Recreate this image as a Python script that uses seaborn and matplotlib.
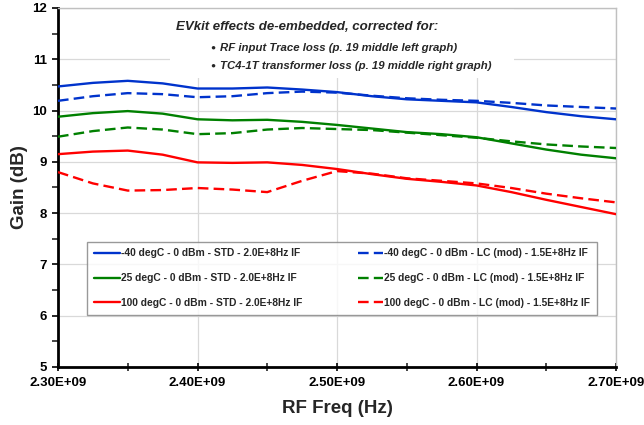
import numpy as np
import pandas as pd
import matplotlib
matplotlib.use('Agg')
import matplotlib.pyplot as plt
import seaborn as sns
from matplotlib.patches import Rectangle

# frequency points (GHz)
freq_ghz = [2.300, 2.325, 2.350, 2.375, 2.400, 2.425, 2.450, 2.475, 2.500,
            2.525, 2.550, 2.575, 2.600, 2.625, 2.650, 2.675, 2.700]

# gain (dB), STD board, 2.0E+8Hz IF
gain_m40_std = [10.47, 10.54, 10.58, 10.53, 10.43, 10.43, 10.45, 10.41, 10.36,
                10.28, 10.22, 10.19, 10.16, 10.07, 9.97, 9.89, 9.83]
gain_25_std = [9.88, 9.95, 9.99, 9.94, 9.83, 9.81, 9.82, 9.78, 9.72,
               9.65, 9.58, 9.54, 9.48, 9.36, 9.24, 9.14, 9.07]
gain_100_std = [9.15, 9.20, 9.22, 9.14, 8.99, 8.98, 8.99, 8.94, 8.86,
                8.76, 8.67, 8.61, 8.54, 8.41, 8.26, 8.12, 7.98]

# gain (dB), LC (mod) board, 1.5E+8Hz IF
gain_m40_lc = [10.19, 10.28, 10.34, 10.32, 10.26, 10.28, 10.34, 10.37, 10.35,
               10.29, 10.24, 10.21, 10.19, 10.15, 10.10, 10.07, 10.04]
gain_25_lc = [9.49, 9.60, 9.67, 9.63, 9.54, 9.56, 9.63, 9.66, 9.64,
              9.62, 9.57, 9.52, 9.47, 9.40, 9.34, 9.30, 9.27]
gain_100_lc = [8.80, 8.58, 8.44, 8.45, 8.49, 8.46, 8.41, 8.63, 8.82,
               8.77, 8.68, 8.63, 8.58, 8.49, 8.38, 8.29, 8.21]

series_labels = [
    '-40 degC - 0 dBm - STD - 2.0E+8Hz IF',
    '25 degC - 0 dBm - STD - 2.0E+8Hz IF',
    '100 degC - 0 dBm - STD - 2.0E+8Hz IF',
    '-40 degC - 0 dBm - LC (mod) - 1.5E+8Hz IF',
    '25 degC - 0 dBm - LC (mod) - 1.5E+8Hz IF',
    '100 degC - 0 dBm - LC (mod) - 1.5E+8Hz IF',
]

xtick_vals = [2.30e9, 2.40e9, 2.50e9, 2.60e9, 2.70e9]
xtick_labels = ['2.30E+09', '2.40E+09', '2.50E+09', '2.60E+09', '2.70E+09']
ytick_vals = [5, 6, 7, 8, 9, 10, 11, 12]

note_title = 'EVkit effects de-embedded, corrected for:'
note_items = ['RF input Trace loss (p. 19 middle left graph)',
              'TC4-1T transformer loss (p. 19 middle right graph)']

# build long-form table for seaborn
all_gain = [gain_m40_std, gain_25_std, gain_100_std, gain_m40_lc, gain_25_lc, gain_100_lc]
frames = []
for lab, g in zip(series_labels, all_gain):
    frames.append(pd.DataFrame({'Freq': np.array(freq_ghz) * 1e9, 'Gain': g, 'Series': lab}))
df = pd.concat(frames, ignore_index=True)

colors = ['#0033cc', '#008000', '#ff0000'] * 2
palette = dict(zip(series_labels, colors))
dashes = {lab: ('' if i < 3 else (4.5, 2.2)) for i, lab in enumerate(series_labels)}

sns.set_style('white')
plt.rcParams['font.family'] = ['Liberation Sans', 'DejaVu Sans']

fig = plt.figure(figsize=(6.44, 4.25), dpi=100)
fig.patch.set_facecolor('white')
ax = fig.add_axes([58 / 644, 1 - 367 / 425, (616 - 58) / 644, (367 - 8) / 425])

sns.lineplot(data=df, x='Freq', y='Gain', hue='Series', style='Series',
             palette=palette, dashes=dashes, linewidth=1.7, ax=ax, zorder=3)

ax.set_xlim(2.30e9, 2.70e9)
ax.set_ylim(5, 12)
ax.set_xticks(xtick_vals)
ax.set_xticklabels(xtick_labels)
ax.set_xticks([2.35e9, 2.45e9, 2.55e9, 2.65e9], minor=True)
ax.set_yticks(ytick_vals)
ax.set_yticks(np.arange(5.5, 12, 1.0), minor=True)

ax.grid(True, which='major', color='#d9d9d9', linewidth=0.9, zorder=0)
ax.set_axisbelow(True)

ax.tick_params(axis='both', which='major', labelsize=9.5, colors='black', width=1.2)
ax.tick_params(axis='y', which='both', direction='out', length=4, left=True, pad=4)
ax.tick_params(axis='x', which='both', direction='inout', length=6, bottom=True, pad=4)
ax.tick_params(axis='both', which='minor', width=1.2)
for lab in ax.get_xticklabels() + ax.get_yticklabels():
    lab.set_fontweight('bold')

ax.spines['left'].set_color('black')
ax.spines['left'].set_linewidth(2)
ax.spines['bottom'].set_color('black')
ax.spines['bottom'].set_linewidth(2)
ax.spines['right'].set_color('#c0c0c0')
ax.spines['top'].set_color('#c0c0c0')
ax.spines['right'].set_linewidth(1)
ax.spines['top'].set_linewidth(1)

ax.set_xlabel('RF Freq (Hz)', fontsize=13.5, fontweight='bold', labelpad=8)
ax.set_ylabel('Gain (dB)', fontsize=13.5, fontweight='bold', labelpad=3)

# white box behind the note hides the gridlines
ax.add_patch(Rectangle((0.20, 0.805), 0.617, 0.2, transform=ax.transAxes,
                       facecolor='white', edgecolor='none', zorder=1))
ax.text(0.446, 0.947, note_title, transform=ax.transAxes, ha='center', va='center',
        fontsize=9.5, fontweight='bold', style='italic', zorder=4)
for k, item in enumerate(note_items):
    yy = 0.889 - k * 0.051
    ax.text(0.278, yy, '\u25cf', transform=ax.transAxes, ha='center', va='center',
            fontsize=6, zorder=4)
    ax.text(0.290, yy, item, transform=ax.transAxes, ha='left', va='center',
            fontsize=8.2, fontweight='bold', style='italic', zorder=4)

handles, labels = ax.get_legend_handles_labels()
leg = ax.legend(handles, labels, ncol=2, loc='center', mode='expand',
                bbox_to_anchor=(0.043, 0.14, 0.932, 0.215),
                prop={'size': 7.4, 'weight': 'bold'}, frameon=True, fancybox=False,
                handlelength=2.5, handletextpad=0.1, labelspacing=1.45,
                columnspacing=1.0, borderpad=0.65)
leg.get_frame().set_edgecolor('#808080')
leg.get_frame().set_linewidth(1)
leg.set_zorder(5)

fig.savefig('out.png', dpi=100)
plt.close(fig)
